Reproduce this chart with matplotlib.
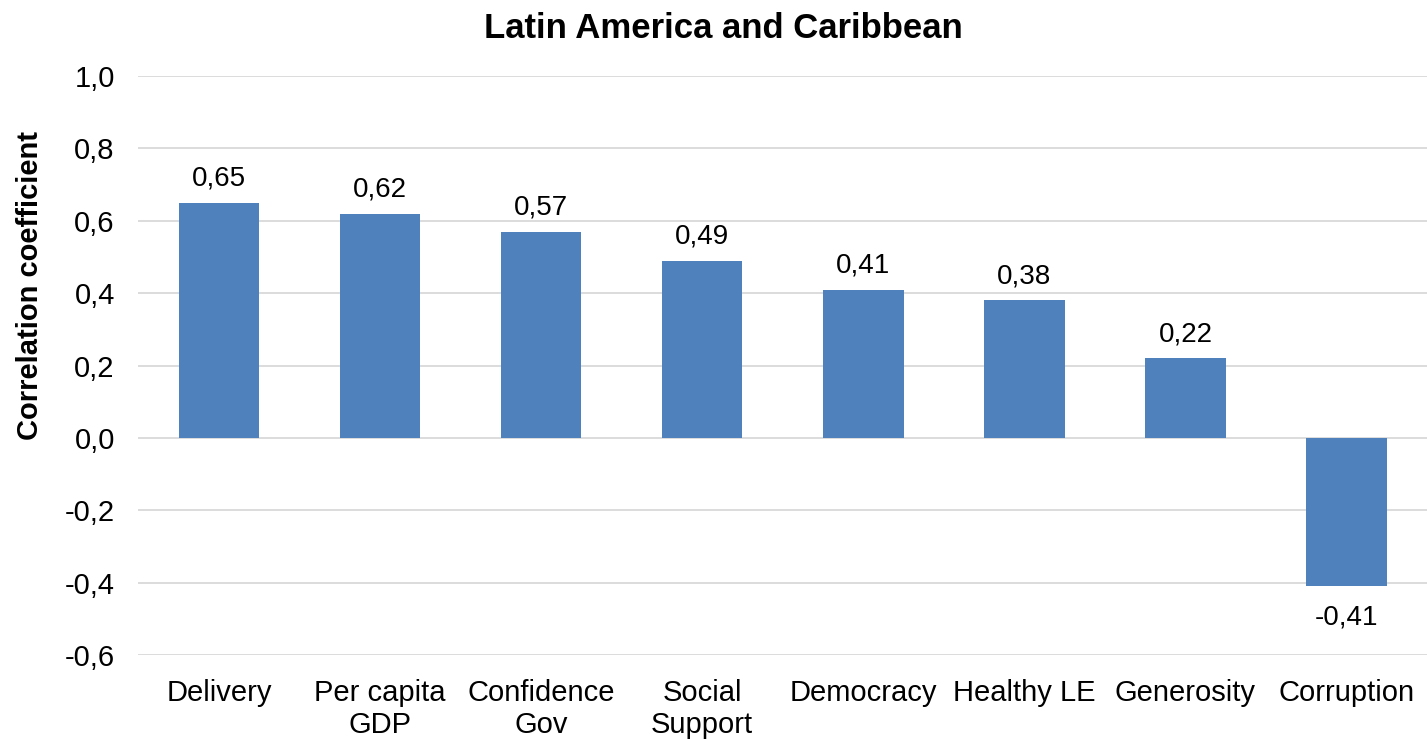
import matplotlib
matplotlib.use("Agg")
import matplotlib.pyplot as plt
import numpy as np

plt.rcParams['font.family'] = ['Liberation Sans', 'DejaVu Sans']

categories = ['Delivery', 'Per capita\nGDP', 'Confidence\nGov', 'Social\nSupport',
              'Democracy', 'Healthy LE', 'Generosity', 'Corruption']
values = [0.65, 0.62, 0.57, 0.49, 0.41, 0.38, 0.22, -0.41]
yticks = [-0.6, -0.4, -0.2, 0.0, 0.2, 0.4, 0.6, 0.8, 1.0]

fig = plt.figure(figsize=(14.27, 7.39), dpi=100)
ax = fig.add_axes([0.097, 0.1137, 0.903, 0.7833])

x = np.arange(len(categories))
ax.bar(x, values, width=0.5, color='#4F81BD', zorder=3)

# value labels: above positive bars, below negative ones
for xi, v in zip(x, values):
    label = f'{v:.2f}'.replace('.', ',')
    if v >= 0:
        ax.annotate(label, (xi, v), xytext=(0, 8), textcoords='offset points',
                    ha='center', va='bottom', fontsize=20)
    else:
        ax.annotate(label, (xi, v), xytext=(0, -13), textcoords='offset points',
                    ha='center', va='top', fontsize=20)

ax.set_xlim(-0.5, len(categories) - 0.5)
ax.set_ylim(-0.6, 1.0)
ax.set_yticks(yticks)
ax.set_yticklabels([f'{t:.1f}'.replace('.', ',') for t in yticks], fontsize=21)
ax.set_xticks(x)
ax.set_xticklabels(categories, fontsize=21, linespacing=1.2)
ax.tick_params(axis='y', length=0, pad=17)
ax.tick_params(axis='x', length=0, pad=17)

ax.grid(axis='y', color='#D9D9D9', linewidth=1.3, zorder=0)
for s in ax.spines.values():
    s.set_visible(False)

fig.text(30 / 1427, 1 - 286 / 739, 'Correlation coefficient', rotation=90,
         ha='center', va='center', fontsize=21, fontweight='bold')
fig.text(723 / 1427, 1 - 28 / 739, 'Latin America and Caribbean',
         ha='center', va='center', fontsize=25, fontweight='bold')

fig.savefig('out.png', dpi=100)
